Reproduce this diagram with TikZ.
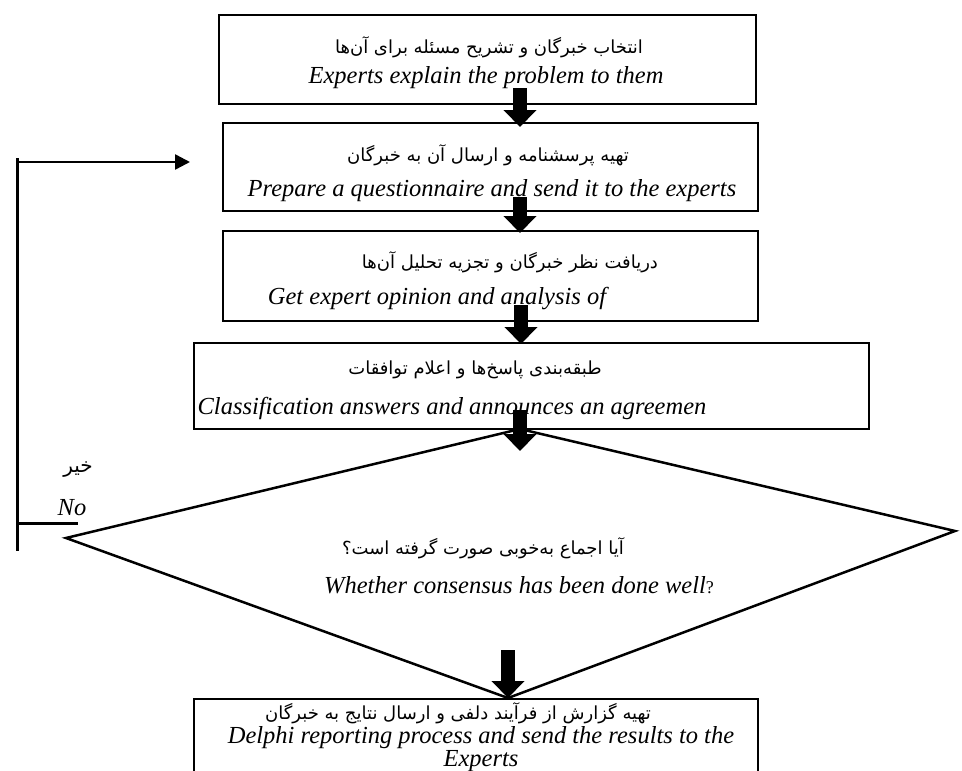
\documentclass[tikz,border=0pt]{standalone}
\usepackage{fontspec}
\setmainfont{Liberation Serif}
\newfontfamily\fa[Script=Arabic]{DejaVu Sans}
\TeXXeTstate=1
\usetikzlibrary{arrows.meta}
\tikzset{
  box/.style={draw, line width=2pt, rectangle, anchor=north west, inner sep=0pt},
  en/.style={font=\fontsize{24.5}{20}\selectfont\itshape, inner sep=0pt},
  fatxt/.style={font=\fontsize{18}{24}\selectfont\fa, inner sep=0pt},
  blockarrow/.style={line width=14pt, -{Triangle[width=32pt,length=17pt]}},
  fb/.style={line width=3pt},
  fbarrow/.style={line width=2.5pt, -{Triangle[width=15pt,length=15pt]}},
}
\begin{document}
\begin{tikzpicture}[x=1pt,y=1pt]
\useasboundingbox (0,0) rectangle (962,-771);
% boxes
\node[box, minimum width=537pt, minimum height=89pt] (b1) at (218,-14) {};
\node[box, minimum width=535pt, minimum height=88pt] (b2) at (222,-122) {};
\node[box, minimum width=535pt, minimum height=90pt] (b3) at (222,-230) {};
\node[box, minimum width=675pt, minimum height=86pt] (b4) at (193,-342) {};
\node[box, minimum width=564pt, minimum height=120pt] (b5) at (193,-698) {};
% diamond
\coordinate (dl) at (66,-538);
\coordinate (dt) at (520,-429);
\coordinate (dr) at (955,-531);
\coordinate (db) at (508,-698);
\draw[line width=2.5pt] (dl) -- (dt) -- (dr) -- (db) -- cycle;
% texts
\node[fatxt] (t1p) at (489,-47) {\beginR انتخاب خبرگان و تشریح مسئله برای آن‌ها\endR};
\node[en] (t1e) at (486,-78) {Experts explain the problem to them};
\node[fatxt] (t2p) at (488,-155) {\beginR تهیه پرسشنامه و ارسال آن به خبرگان\endR};
\node[en] (t2e) at (492,-191) {Prepare a questionnaire and send it to the experts};
\node[fatxt] (t3p) at (510,-262) {\beginR دریافت نظر خبرگان و تجزیه تحلیل آن‌ها\endR};
\node[en] (t3e) at (437,-299) {Get expert opinion and analysis of};
\node[fatxt] (t4p) at (475,-370) {\beginR طبقه‌بندی پاسخ‌ها و اعلام توافقات\endR};
\node[en] (t4e) at (452,-408) {Classification answers and announces an agreemen};
\node[fatxt] (t5p) at (483,-548) {\beginR آیا اجماع به‌خوبی صورت گرفته است؟\endR};
\node[en] (t5e) at (519,-585) {Whether consensus has been done well{\upshape\fontsize{18}{20}\selectfont ?}};
\node[fatxt] (t6p) at (458,-713) {\beginR تهیه گزارش از فرآیند دلفی و ارسال نتایج به خبرگان\endR};
\node[en, align=center] (t6e) at (481,-749) {Delphi reporting process and send the results to the\\Experts};
\node[fatxt, font=\fontsize{20}{24}\selectfont\fa] (nop) at (78,-470) {\beginR خیر\endR};
\node[en] (noe) at (72,-508) {No};
% block arrows
\coordinate (a1s) at (520,-88);
\coordinate (a1e) at (520,-127);
\coordinate (a2s) at (520,-197);
\coordinate (a2e) at (520,-233);
\coordinate (a3s) at (521,-305);
\coordinate (a3e) at (521,-344);
\coordinate (a4s) at (520,-410);
\coordinate (a4e) at (520,-451);
\coordinate (a5s) at (508,-650);
\draw[blockarrow] (a1s) -- (a1e);
\draw[blockarrow] (a2s) -- (a2e);
\draw[blockarrow] (a3s) -- (a3e);
\draw[blockarrow] (a4s) -- (a4e);
\draw[blockarrow] (a5s) -- (a5s |- b5.north);
% feedback loop
\coordinate (fbtop) at (17,-158);
\coordinate (fbarr) at (17,-162);
\coordinate (fbtip) at (190,-162);
\coordinate (fbbot) at (17,-551);
\coordinate (nojoin) at (17,-523);
\coordinate (noend) at (78,-523);
\draw[fb] (fbtop) -- (fbbot);
\draw[fb] (nojoin) -- (noend);
\draw[fbarrow] (fbarr) -- (fbtip);
\end{tikzpicture}
\end{document}
